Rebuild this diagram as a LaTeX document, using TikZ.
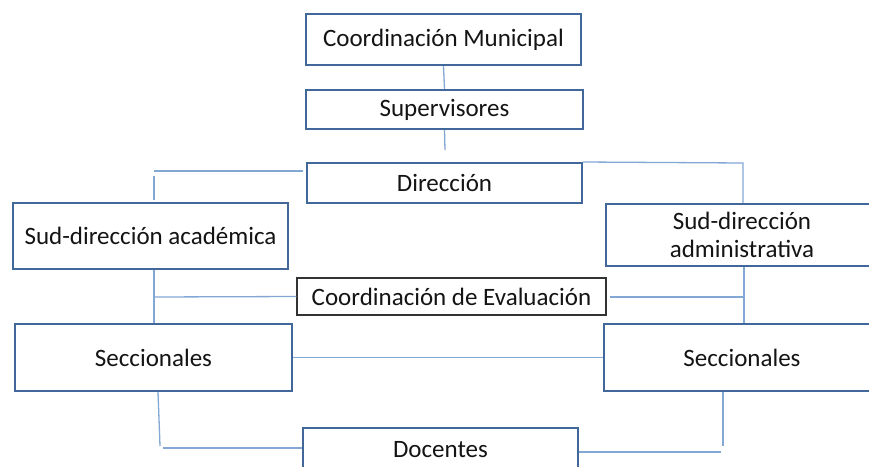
\documentclass[tikz,border=0pt]{standalone}
\usepackage{fontspec}
\setmainfont{Carlito}
\definecolor{boxc}{RGB}{66,103,154}
\definecolor{linec}{RGB}{132,168,214}
\definecolor{txt}{RGB}{20,20,20}
\begin{document}
\begin{tikzpicture}[x=1pt,y=-1pt,
  box/.style={draw=boxc,line width=2pt,rectangle,inner sep=0pt,align=center,text=txt,font=\fontsize{25}{28}\selectfont},
  blackbox/.style={draw=black!80,line width=1.3pt,rectangle,inner sep=0pt,align=center,text=txt,font=\fontsize{25}{28}\selectfont},
  conn/.style={draw=linec,line width=1.3pt}]
\useasboundingbox[fill=white] (0,0) rectangle (869,466);
\node[box,minimum width=275pt,minimum height=51pt] (cm) at (443.5,39.5) {Coordinación Municipal};
\node[box,minimum width=277pt,minimum height=39pt] (sup) at (444.5,109.5) {Supervisores};
\node[box,minimum width=275pt,minimum height=40pt] (dir) at (444.5,183) {Dirección};
\node[box,minimum width=275pt,minimum height=66pt] (sa) at (150.5,236) {Sud-dirección académica};
\node[box,minimum width=272pt,minimum height=62pt] (sd) at (742,235) {Sud-dirección\\administrativa};
\node[blackbox,minimum width=309pt,minimum height=37pt] (ce) at (451.5,296.5) {Coordinación de Evaluación};
\node[box,minimum width=277pt,minimum height=67pt] (sl) at (153.5,357.5) {Seccionales};
\node[box,minimum width=276pt,minimum height=67pt] (sr) at (742,357.5) {Seccionales};
\node[box,minimum width=275pt,minimum height=44pt] (doc) at (440.5,450) {Docentes};
% coordinates
\coordinate (s1) at (445,150);
\coordinate (l1) at (303,171);
\coordinate (l2) at (154,171);
\coordinate (l3) at (154,176);
\coordinate (l4) at (154,200);
\coordinate (r1) at (743,163);
\coordinate (a1) at (154,297);
\coordinate (b1) at (744,297);
\coordinate (b0) at (610,297);
\coordinate (d1) at (158,392);
\coordinate (d2) at (160,446);
\coordinate (d3) at (163,448);
\coordinate (e1) at (723,392);
\coordinate (e2) at (723,446);
\coordinate (e3) at (721,452);
% connectors
\draw[conn] (cm.south) -- (sup.north);
\draw[conn] (sup.south) -- (s1);
\draw[conn] (l1) -- (l2);
\draw[conn] (l3) -- (l4);
\draw[conn] (dir.north east) -- (r1) -- (r1 |- sd.north);
\draw[conn] (sa.south -| a1) -- (sl.north -| a1);
\draw[conn] (a1) -- (ce.west);
\draw[conn] (sd.south -| b1) -- (sr.north -| b1);
\draw[conn] (b0) -- (b1);
\draw[conn] (sl.east) -- (sr.west);
\draw[conn] (d1) -- (d2);
\draw[conn] (d3) -- (d3 -| doc.west);
\draw[conn] (e1) -- (e2);
\draw[conn] (e3 -| doc.east) -- (e3);
\end{tikzpicture}
\end{document}
